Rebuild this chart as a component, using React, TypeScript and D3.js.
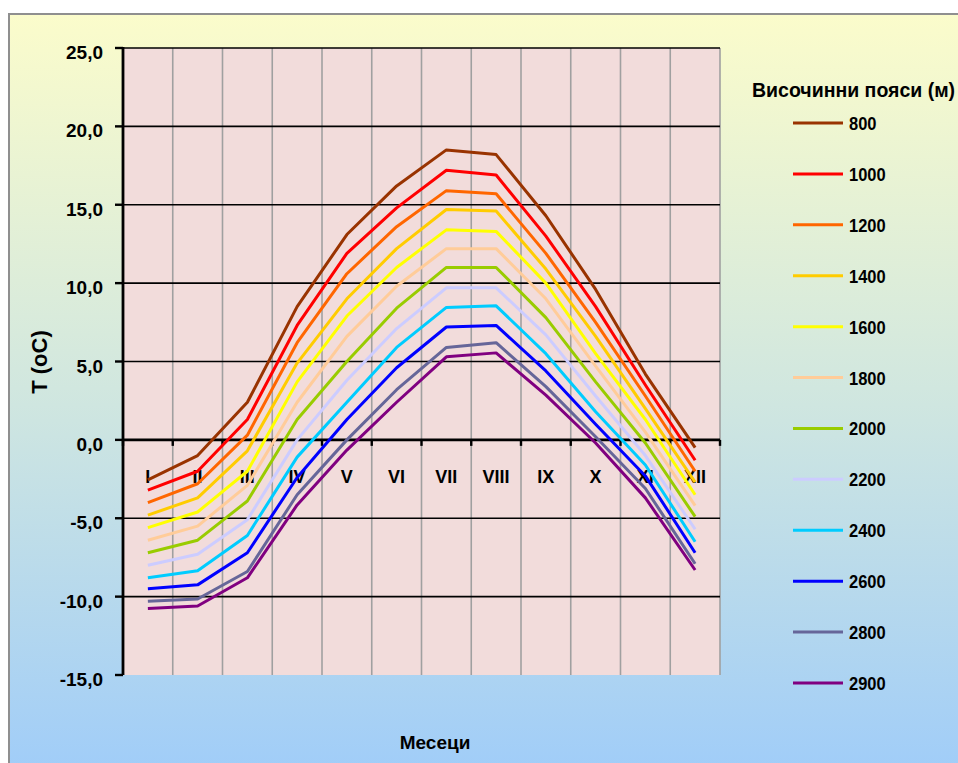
import React from "react";
import * as d3 from "d3";

// Month categories (Roman numerals) along the x axis
const months = ["I", "II", "III", "IV", "V", "VI", "VII", "VIII", "IX", "X", "XI", "XII"];

// Altitude belts (m) and their line colours
const belts = ["800", "1000", "1200", "1400", "1600", "1800", "2000", "2200", "2400", "2600", "2800", "2900"];
const beltColors = [
  "#993300", "#FF0000", "#FF6600", "#FFCC00", "#FFFF00", "#FFCC99",
  "#99CC00", "#CCCCFF", "#00CCFF", "#0000FF", "#666699", "#800080",
];

// Mean monthly temperature (°C) per altitude belt
const t800 = [-2.55, -1.0, 2.4, 8.5, 13.1, 16.2, 18.5, 18.2, 14.3, 9.6, 4.2, -0.5];
const t1000 = [-3.2, -2.0, 1.3, 7.3, 11.9, 14.8, 17.2, 16.9, 13.0, 8.5, 3.5, -1.3];
const t1200 = [-4.0, -2.8, 0.3, 6.2, 10.6, 13.6, 15.9, 15.7, 11.9, 7.5, 2.8, -2.0];
const t1400 = [-4.8, -3.7, -0.7, 4.9, 9.0, 12.2, 14.7, 14.6, 10.9, 6.6, 2.0, -2.7];
const t1600 = [-5.6, -4.6, -2.0, 3.7, 7.9, 11.0, 13.4, 13.3, 10.0, 5.5, 1.3, -3.5];
const t1800 = [-6.4, -5.5, -2.9, 2.4, 6.6, 9.8, 12.2, 12.2, 9.0, 4.7, 0.5, -4.2];
const t2000 = [-7.2, -6.4, -3.9, 1.3, 5.0, 8.4, 11.0, 11.0, 7.8, 3.7, -0.2, -4.9];
const t2200 = [-8.0, -7.3, -5.1, 0.0, 3.8, 7.1, 9.7, 9.7, 6.7, 2.8, -1.0, -5.7];
const t2400 = [-8.8, -8.35, -6.1, -1.1, 2.4, 5.9, 8.45, 8.55, 5.5, 1.8, -1.6, -6.5];
const t2600 = [-9.5, -9.25, -7.2, -2.4, 1.3, 4.6, 7.2, 7.3, 4.4, 1.0, -2.3, -7.2];
const t2800 = [-10.3, -10.15, -8.4, -3.5, 0.0, 3.2, 5.9, 6.2, 3.4, 0.2, -3.1, -7.9];
const t2900 = [-10.75, -10.6, -8.8, -4.15, -0.65, 2.4, 5.3, 5.55, 2.85, -0.2, -3.7, -8.3];

const seriesValues = [t800, t1000, t1200, t1400, t1600, t1800, t2000, t2200, t2400, t2600, t2800, t2900];

// Y axis ticks and labels
const yTicks = [25, 20, 15, 10, 5, 0, -5, -10, -15];
const yTickLabels = ["25,0", "20,0", "15,0", "10,0", "5,0", "0,0", "-5,0", "-10,0", "-15,0"];

const legendTitle = "Височинни пояси (м)";
const yTitle = "T (oC)";
const xTitle = "Месеци";

const W = 958;
const H = 763;
const plot = { left: 123, right: 720, top: 48, bottom: 675 };
const FONT = "'Liberation Sans', Arial, sans-serif";

export default function App() {
  const x = d3.scaleBand<string>().domain(months).range([plot.left, plot.right]);
  const y = d3.scaleLinear().domain([-15, 25]).range([plot.bottom, plot.top]);
  const cx = (m: string) => (x(m) as number) + x.bandwidth() / 2;

  const line = d3
    .line<number>()
    .x((_, i) => cx(months[i]))
    .y((v) => y(v));

  const boundaries = months.map((m) => x(m) as number).concat([plot.right]);
  const legendY = d3.scaleLinear().domain([0, belts.length - 1]).range([123, 683]);

  return (
    <svg
      width={W}
      height={H}
      style={{ position: "absolute", left: 0, top: 0, display: "block" }}
      fontFamily={FONT}
    >
      <defs>
        <linearGradient id="bg" x1="0" y1="0" x2="0" y2="1">
          <stop offset="0" stopColor="#FBFCCB" />
          <stop offset="0.5" stopColor="#CFE6E0" />
          <stop offset="1" stopColor="#9DCBFA" />
        </linearGradient>
      </defs>
      <rect x={0} y={0} width={W} height={H} fill="#ffffff" />
      <rect x={9} y={14} width={W + 20} height={H + 20} fill="url(#bg)" stroke="#8f8f8f" strokeWidth={2} />

      {/* plot area */}
      <rect x={plot.left} y={plot.top} width={plot.right - plot.left} height={plot.bottom - plot.top} fill="#F2DCDB" />

      {/* vertical gridlines at category boundaries */}
      {boundaries.map((bx, i) => (
        <line key={"vg" + i} x1={bx} x2={bx} y1={plot.top} y2={plot.bottom} stroke="#a0a0a0" strokeWidth={1.6} />
      ))}

      {/* horizontal major gridlines */}
      {yTicks
        .filter((v) => v !== -15 && v !== 0)
        .map((v) => (
          <line key={"hg" + v} x1={plot.left} x2={plot.right} y1={y(v)} y2={y(v)} stroke="#000" strokeWidth={1.6} />
        ))}

      {/* x axis at 0 with ticks */}
      <line x1={plot.left} x2={plot.right} y1={y(0)} y2={y(0)} stroke="#000" strokeWidth={2.8} />
      {boundaries.map((bx, i) => (
        <line key={"xt" + i} x1={bx} x2={bx} y1={y(0)} y2={y(0) + 6} stroke="#000" strokeWidth={2.4} />
      ))}

      {/* y axis */}
      <line x1={plot.left} x2={plot.left} y1={plot.top - 1} y2={plot.bottom} stroke="#000" strokeWidth={2.8} />
      {yTicks.map((v, i) => (
        <g key={"yt" + v}>
          <line x1={plot.left - 8} x2={plot.left} y1={y(v)} y2={y(v)} stroke="#000" strokeWidth={2.4} />
          <text x={103} y={y(v) + 11} textAnchor="end" fontSize={19} fontWeight="bold" fill="#000">
            {yTickLabels[i]}
          </text>
        </g>
      ))}

      {/* month labels */}
      {months.map((m) => (
        <text key={"ml" + m} x={cx(m)} y={483} textAnchor="middle" fontSize={18} fontWeight="bold" fill="#000">
          {m}
        </text>
      ))}

      {/* series lines */}
      {seriesValues.map((vals, i) => (
        <path
          key={"s" + belts[i]}
          d={line(vals) || ""}
          fill="none"
          stroke={beltColors[i]}
          strokeWidth={3}
          strokeLinejoin="round"
        />
      ))}

      {/* axis titles */}
      <text
        transform={`translate(47,362) rotate(-90)`}
        textAnchor="middle"
        fontSize={22}
        fontWeight="bold"
        fill="#000"
      >
        {yTitle}
      </text>
      <text x={435} y={749} textAnchor="middle" fontSize={19} fontWeight="bold" fill="#000">
        {xTitle}
      </text>

      {/* legend */}
      <text x={752} y={97} fontSize={19.5} fontWeight="bold" fill="#000">
        {legendTitle}
      </text>
      {belts.map((b, i) => {
        const ly = legendY(i);
        return (
          <g key={"lg" + b}>
            <line x1={793} x2={843} y1={ly} y2={ly} stroke={beltColors[i]} strokeWidth={3} />
            <text
              transform={`translate(849,${ly + 7}) scale(1,1.15)`}
              fontSize={16.5}
              fontWeight="bold"
              fill="#000"
            >
              {b}
            </text>
          </g>
        );
      })}
    </svg>
  );
}
